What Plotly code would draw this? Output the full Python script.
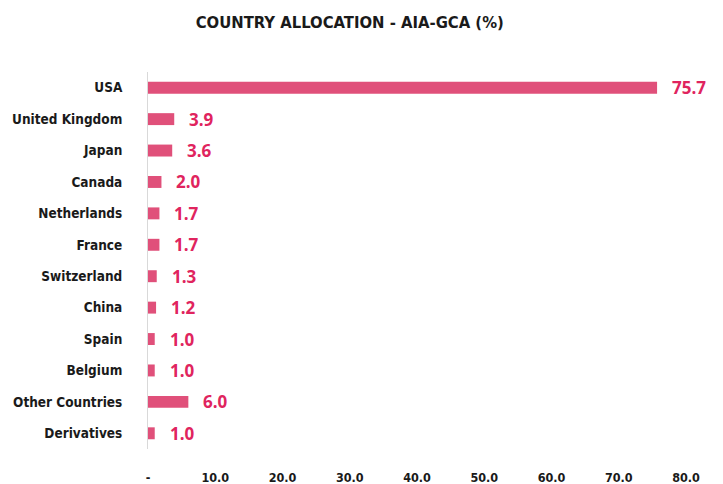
import plotly.graph_objects as go

categories = ["USA", "United Kingdom", "Japan", "Canada", "Netherlands", "France",
              "Switzerland", "China", "Spain", "Belgium", "Other Countries", "Derivatives"]
values = [75.7, 3.9, 3.6, 2.0, 1.7, 1.7, 1.3, 1.2, 1.0, 1.0, 6.0, 1.0]
tick_vals = [0, 10, 20, 30, 40, 50, 60, 70, 80]
tick_text = ["-", "10.0", "20.0", "30.0", "40.0", "50.0", "60.0", "70.0", "80.0"]

cond = "DejaVu Sans Condensed"
bar_color = "#E0507A"
label_color = "#E0245E"

fig = go.Figure(go.Bar(
    x=values, y=categories, orientation="h",
    marker=dict(color=bar_color, line=dict(width=0)),
    width=0.38,
))

for c, v in zip(categories, values):
    fig.add_annotation(x=v, y=c, text=f"<b>{v:.1f}</b>", showarrow=False,
                       xanchor="left", xshift=13,
                       font=dict(family="Open Sans", size=17, color=label_color))

fig.update_layout(
    width=715, height=476,
    margin=dict(l=140, r=37, t=64, b=35),
    paper_bgcolor="white", plot_bgcolor="white",
    showlegend=False,
    title=dict(text="<b>COUNTRY ALLOCATION - AIA-GCA (%)</b>", x=0.478, xanchor="center",
               y=0.97, yanchor="middle",
               font=dict(family=cond, size=16.5, color="#1a1a1a")),
    xaxis=dict(range=[0, 80], tickvals=tick_vals, ticktext=tick_text,
               showgrid=False, zeroline=False, showline=False, automargin=False,
               ticklabelstandoff=19,
               tickfont=dict(family=cond, size=12.5, color="#1a1a1a", weight="bold")),
    yaxis=dict(autorange="reversed", showgrid=False, zeroline=False, automargin=False,
               showline=True, linecolor="#d9d9d9", linewidth=1,
               ticklabelstandoff=22,
               tickfont=dict(family=cond, size=13.5, color="#1a1a1a", weight="bold")),
)
fig.write_html("out.html")
